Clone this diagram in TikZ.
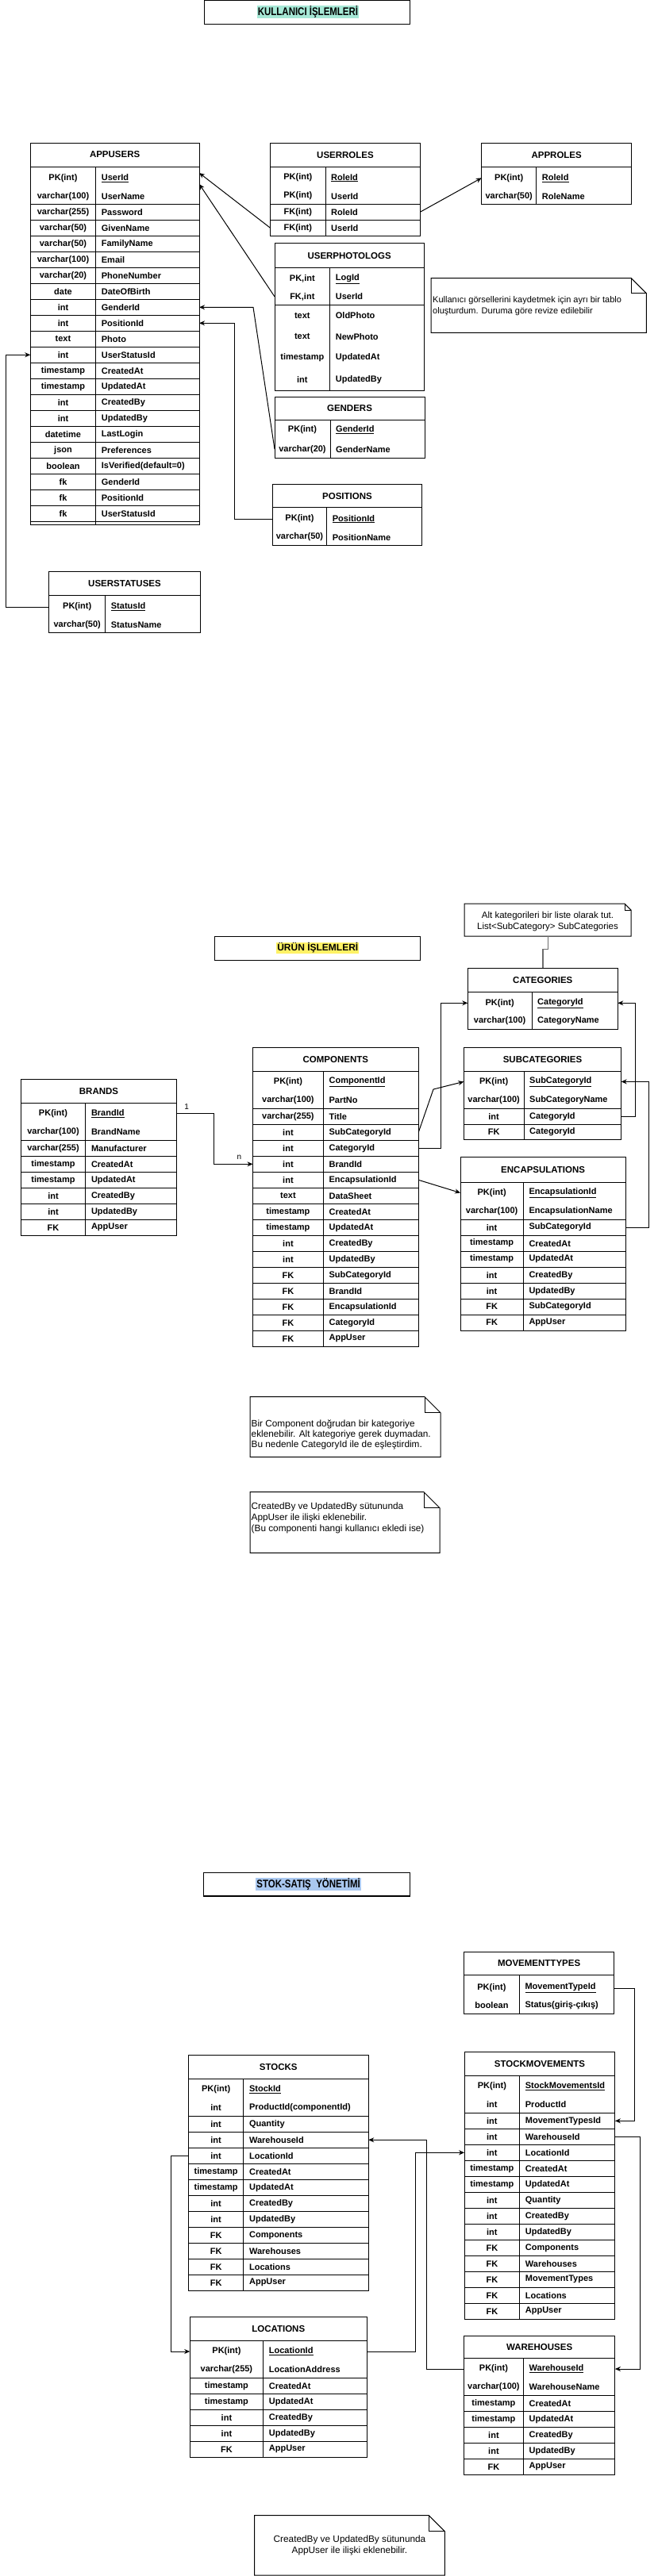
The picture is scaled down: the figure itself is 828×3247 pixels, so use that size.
\documentclass[tikz,border=0pt]{standalone}
\usepackage{fontspec}
\setmainfont{Liberation Sans}
\usetikzlibrary{arrows.meta}
\definecolor{hlteal}{RGB}{166,232,214}
\definecolor{hlyellow}{RGB}{255,242,102}
\definecolor{hlblue}{RGB}{170,200,240}
\definecolor{linkgray}{RGB}{110,110,110}

\newcommand\Txa{0}\newcommand\Txd{0}\newcommand\Txb{0}\newcommand\Tname{x}
\newcommand\tframe[8]{%
  \draw[tline] (#2,#5) rectangle (#4,#7);
  \draw[tline] (#2,#6) -- (#4,#6);
  \draw[tline] (#3,#6) -- (#3,#7);
  \node[ttitle] (#1) at ({(#2+#4)/2},{(#5+#6)/2}) {#8};
  \gdef\Txa{#2}\gdef\Txd{#3}\gdef\Txb{#4}\gdef\Tname{#1}%
}
\newcommand\trow[4]{%
  \node[ttype] (\Tname-t#1) at ({(\Txa+\Txd)/2},#2) {#3};
  \node[tfield] (\Tname-f#1) at ({\Txd+7},#2) {#4};
  \coordinate (\Tname-L#1) at (\Txa,#2);
  \coordinate (\Tname-R#1) at (\Txb,#2);
}
\newcommand\tsep[1]{\draw[tline] (\Txa,#1) -- (\Txb,#1);}
\newcommand\trows[4]{%
  \foreach \ty/\fd [count=\k from 0] in {#4} {%
    \pgfmathsetmacro\yt{#2+\k*#3}%
    \pgfmathsetmacro\yc{#2+(\k+0.5)*#3}%
    \pgfmathtruncatemacro\ix{#1+\k}%
    \draw[tline] (\Txa,\yt) -- (\Txb,\yt);%
    \trow{\ix}{\yc}{\ty}{\fd}%
  }%
}
\newcommand\notebox[6]{%
  \draw[tline] (#2,#3) -- ({#4-#6},#3) -- (#4,{#3+#6}) -- (#4,#5) -- (#2,#5) -- cycle;
  \draw[tline] ({#4-#6},#3) -- ({#4-#6},{#3+#6}) -- (#4,{#3+#6});
  \coordinate (#1) at ({(#2+#4)/2},{(#3+#5)/2});
}

\begin{document}
\begin{tikzpicture}[x=1pt,y=-1pt,
  tline/.style={draw=black,line width=1pt},
  ttitle/.style={font=\bfseries\fontsize{11.5}{13}\selectfont,inner sep=0pt},
  ttype/.style={font=\bfseries\fontsize{11}{13}\selectfont,inner sep=0pt},
  tfield/.style={font=\bfseries\fontsize{11}{13}\selectfont,inner sep=0pt,anchor=west},
  conn/.style={draw=black,line width=1pt,-{Stealth[length=7pt,width=6pt]}},
  link/.style={draw=black,line width=1pt},
  notetext/.style={font=\fontsize{11.5}{13.4}\selectfont,inner sep=0pt,align=left},
  sectitle/.style={font=\bfseries\fontsize{14}{16}\selectfont,inner sep=1pt},
  card/.style={font=\fontsize{10}{12}\selectfont,inner sep=0pt},
  secbox/.style={draw=black,line width=1.2pt}
]
\fill[white] (0,0) rectangle (828,3247);
\useasboundingbox (0,0) rectangle (828,3247);

% ================= KULLANICI ISLEMLERI =================
\draw[secbox] (257.1,0.7) rectangle (516.4,30.7);
\node[sectitle,fill=hlteal] (sec1) at (388,15) {\scalebox{0.82}[1]{KULLANICI İŞLEMLERİ}};

\tframe{au}{38.3}{120.7}{251}{180}{210}{661.3}{APPUSERS}
\trow{1}{225}{PK(int)}{\underline{UserId}}
\trow{2}{247.3}{varchar(100)}{UserName}
\trows{3}{257.3}{20}{varchar(255)/Password, varchar(50)/GivenName, varchar(50)/FamilyName,
  varchar(100)/Email, varchar(20)/PhoneNumber, date/DateOfBirth, int/GenderId, int/PositionId,
  text/Photo, int/UserStatusId, timestamp/CreatedAt, timestamp/UpdatedAt, int/CreatedBy,
  int/UpdatedBy, datetime/LastLogin, json/Preferences, boolean/IsVerified(default=0),
  fk/GenderId, fk/PositionId, fk/UserStatusId}
\tsep{657.3}

\tframe{ur}{340.7}{410}{529.3}{180.1}{210.6}{297.5}{USERROLES}
\trow{1}{224.1}{PK(int)}{\underline{RoleId}}
\trow{2}{247.1}{PK(int)}{UserId}
\trows{3}{257.2}{20.15}{FK(int)/RoleId, FK(int)/UserId}

\tframe{ar}{606.7}{675.7}{795.7}{180}{210.7}{257.3}{APPROLES}
\trow{1}{224.3}{PK(int)}{\underline{RoleId}}
\trow{2}{247.3}{varchar(50)}{RoleName}

\tframe{up}{346}{415.7}{534.3}{306.9}{337.3}{492.2}{USERPHOTOLOGS}
\trow{1}{351.5}{PK,int}{\underline{LogId}}
\trow{2}{373.9}{FK,int}{UserId}
\tsep{384}
\trow{3}{397.5}{text}{OldPhoto}
\trow{4}{424.2}{text}{NewPhoto}
\trow{5}{450.6}{timestamp}{UpdatedAt}
\trow{6}{478.3}{int}{UpdatedBy}

\tframe{ge}{346}{416}{535}{500.3}{529}{577.4}{GENDERS}
\trow{1}{541.9}{PK(int)}{\underline{GenderId}}
\trow{2}{566.2}{varchar(20)}{GenderName}

\tframe{po}{343.3}{411.7}{531.7}{610.2}{639.9}{687.9}{POSITIONS}
\trow{1}{654.1}{PK(int)}{\underline{PositionId}}
\trow{2}{677.1}{varchar(50)}{PositionName}

\tframe{us}{61.7}{132.7}{252.3}{720.7}{750}{797.3}{USERSTATUSES}
\trow{1}{765}{PK(int)}{\underline{StatusId}}
\trow{2}{787.3}{varchar(50)}{StatusName}

\notebox{n1}{543}{350.7}{814.3}{419.3}{19}
\node[notetext,anchor=west,font=\fontsize{11}{13.7}\selectfont] (n1t) at (545,385.8)
  {Kullanıcı görsellerini kaydetmek için ayrı bir tablo\\oluşturdum. Duruma göre revize edilebilir};

% connectors
\draw[conn] (ur-R3) -- (ar-L1);
\draw[conn] (ur-L4) -- ([yshift=7pt]au-R1);
\draw[conn] (up-L2) -- ([yshift=-7pt]au-R1);
\coordinate (gbend) at (319,0);
\draw[conn] (ge-L2) -- (gbend |- au-R9) -- (au-R9);
\coordinate (pbend) at (295,0);
\draw[conn] (po-L1) -- (pbend |- po-L1) -- (pbend |- au-R10) -- (au-R10);
\coordinate (sbend) at (7.7,0);
\draw[conn] (us-L1) -- (sbend |- us-L1) -- (sbend |- au-L12) -- (au-L12);

% ================= URUN ISLEMLERI =================
\draw[secbox] (270.3,1180.3) rectangle (529.6,1210.3);
\node[sectitle,fill=hlyellow,font=\bfseries\fontsize{12}{14}\selectfont] (sec2) at (400.3,1195) {ÜRÜN İŞLEMLERİ};

\tframe{br}{26.2}{107.8}{222.8}{1360.3}{1390.3}{1557.3}{BRANDS}
\trow{1}{1403.7}{PK(int)}{\underline{BrandId}}
\trow{2}{1426.7}{varchar(100)}{BrandName}
\trows{3}{1437.3}{20}{varchar(255)/Manufacturer, timestamp/CreatedAt, timestamp/UpdatedAt,
  int/CreatedBy, int/UpdatedBy, FK/AppUser}

\tframe{co}{318.5}{407.4}{527.2}{1320.7}{1350.3}{1697.3}{COMPONENTS}
\trow{1}{1363.7}{PK(int)}{\underline{ComponentId}}
\trow{2}{1386.7}{varchar(100)}{PartNo}
\trows{3}{1397.3}{20}{varchar(255)/Title, int/SubCategoryId, int/CategoryId, int/BrandId,
  int/EncapsulationId, text/DataSheet, timestamp/CreatedAt, timestamp/UpdatedAt, int/CreatedBy,
  int/UpdatedBy, FK/SubCategoryId, FK/BrandId, FK/EncapsulationId, FK/CategoryId, FK/AppUser}

\tframe{ca}{589.3}{670}{778.3}{1220.3}{1250.1}{1297.2}{CATEGORIES}
\trow{1}{1264.3}{PK(int)}{\underline{CategoryId}}
\trow{2}{1286.5}{varchar(100)}{CategoryName}

\tframe{sc}{584.3}{660}{782.7}{1320.2}{1350}{1436.9}{SUBCATEGORIES}
\trow{1}{1363.4}{PK(int)}{\underline{SubCategoryId}}
\trow{2}{1386.7}{varchar(100)}{SubCategoryName}
\trows{3}{1397.5}{19.7}{int/CategoryId, FK/CategoryId}

\tframe{en}{580}{659.3}{788.3}{1458.7}{1490.5}{1677.2}{ENCAPSULATIONS}
\trow{1}{1503.5}{PK(int)}{\underline{EncapsulationId}}
\trow{2}{1526.4}{varchar(100)}{EncapsulationName}
\trows{3}{1537.1}{20.01}{int/SubCategoryId, timestamp/CreatedAt, timestamp/UpdatedAt,
  int/CreatedBy, int/UpdatedBy, FK/SubCategoryId, FK/AppUser}

\notebox{nak}{585}{1139.1}{795}{1180.1}{8}
\node[notetext,align=center] (nakt) at (690,1161.5) {Alt kategorileri bir liste olarak tut.\\List<SubCategory> SubCategories};
\coordinate (nakb) at (690.7,1180.1);
\coordinate (catop) at (684,1220.3);
\draw[draw=linkgray,line width=1.2pt] (nakb) -- (690.7,1196.5) -- (684,1196.5) -- (catop);

% connectors
\coordinate (brbend) at (269.3,0);
\draw[conn] (br-R1) -- (brbend |- br-R1) -- (brbend |- co-L6) -- (co-L6);
\node[card] (lbl1) at (235.2,1395) {1};
\node[card] (lbln) at (301.3,1459) {n};
\draw[conn] (co-R4) -- (546,1373) -- (sc-L1);
\coordinate (cbend) at (555,0);
\draw[conn] (co-R5) -- (cbend |- co-R5) -- (cbend |- ca-L1) -- (ca-L1);
\draw[conn] (co-R7) -- (en-L1);
\coordinate (crbend) at (800,0);
\draw[conn] (sc-R3) -- (crbend |- sc-R3) -- (crbend |- ca-R1) -- (ca-R1);
\coordinate (srbend) at (817.3,0);
\draw[conn] (en-R3) -- (srbend |- en-R3) -- (srbend |- sc-R1) -- (sc-R1);

\notebox{na}{315}{1760.7}{555}{1836.7}{20}
\node[notetext,anchor=west,font=\fontsize{11.8}{13.4}\selectfont] (nat) at (316.5,1808.3)
  {Bir Component doğrudan bir kategoriye\\eklenebilir. Alt kategoriye gerek duymadan.\\Bu nedenle CategoryId ile de eşleştirdim.};
\notebox{nb}{315}{1880.7}{554}{1957.3}{20}
\node[notetext,anchor=west,font=\fontsize{11.8}{13.7}\selectfont] (nbt) at (316.5,1913.3)
  {CreatedBy ve UpdatedBy sütununda\\AppUser ile ilişki eklenebilir.\\(Bu componenti hangi kullanıcı ekledi ise)};

% ================= STOK-SATIS YONETIMI =================
\draw[secbox] (256.8,2360.7) rectangle (516.6,2390);
\node[sectitle,fill=hlblue] (sec3) at (388.6,2375) {\scalebox{0.82}[1]{STOK-SATIŞ\ \ YÖNETİMİ}};

\tframe{mt}{584.5}{654.3}{773.7}{2460.7}{2489.3}{2538.3}{MOVEMENTTYPES}
\trow{1}{2506}{PK(int)}{\underline{MovementTypeId}}
\trow{2}{2527.3}{boolean}{Status(giriş-çıkış)}

\tframe{st}{237.4}{306.9}{464.2}{2590.7}{2620.7}{2887.3}{STOCKS}
\trow{1}{2633.3}{PK(int)}{\underline{StockId}}
\trow{2}{2656.7}{int}{ProductId(componentId)}
\trows{3}{2667.3}{20}{int/Quantity, int/WarehouseId, int/LocationId, timestamp/CreatedAt,
  timestamp/UpdatedAt, int/CreatedBy, int/UpdatedBy, FK/Components, FK/Warehouses,
  FK/Locations, FK/AppUser}

\tframe{sm}{585.1}{654.7}{774.9}{2586.7}{2616.7}{2923.3}{STOCKMOVEMENTS}
\trow{1}{2630}{PK(int)}{\underline{StockMovementsId}}
\trow{2}{2652.7}{int}{ProductId}
\trows{3}{2663.3}{20}{int/MovementTypesId, int/WarehouseId, int/LocationId, timestamp/CreatedAt,
  timestamp/UpdatedAt, int/Quantity, int/CreatedBy, int/UpdatedBy, FK/Components,
  FK/Warehouses, FK/MovementTypes, FK/Locations, FK/AppUser}

\tframe{lo}{239.2}{331.7}{462.3}{2920.7}{2950.7}{3097.3}{LOCATIONS}
\trow{1}{2964}{PK(int)}{\underline{LocationId}}
\trow{2}{2986.7}{varchar(255)}{LocationAddress}
\trows{3}{2997.3}{20}{timestamp/CreatedAt, timestamp/UpdatedAt, int/CreatedBy, int/UpdatedBy, FK/AppUser}

\tframe{wh}{584.4}{659.5}{774.9}{2944.3}{2972.3}{3119.3}{WAREHOUSES}
\trow{1}{2986}{PK(int)}{\underline{WarehouseId}}
\trow{2}{3008.7}{varchar(100)}{WarehouseName}
\trows{3}{3019.3}{20}{timestamp/CreatedAt, timestamp/UpdatedAt, int/CreatedBy, int/UpdatedBy, FK/AppUser}

% connectors
\coordinate (mtbend) at (799,0);
\draw[conn] (mt-R1) -- (mtbend |- mt-R1) -- (mtbend |- sm-R3) -- (sm-R3);
\coordinate (whbend) at (806,0);
\draw[conn] (sm-R4) -- (whbend |- sm-R4) -- (whbend |- wh-R1) -- (wh-R1);
\coordinate (wsbend) at (537.4,0);
\draw[conn] (wh-L1) -- (wsbend |- wh-L1) -- (wsbend |- st-R4) -- (st-R4);
\coordinate (lsbend) at (523.4,0);
\draw[conn] (lo-R1) -- (lsbend |- lo-R1) -- (lsbend |- sm-L5) -- (sm-L5);
\coordinate (slbend) at (215,0);
\draw[conn] (st-L5) -- (slbend |- st-L5) -- (slbend |- lo-L1) -- (lo-L1);

\notebox{nc}{320.6}{3170.7}{560.4}{3246.2}{20}
\node[notetext,align=center,font=\fontsize{11.8}{14}\selectfont] (nct) at (440.5,3208) {CreatedBy ve UpdatedBy sütununda\\AppUser ile ilişki eklenebilir.};
\end{tikzpicture}
\end{document}
